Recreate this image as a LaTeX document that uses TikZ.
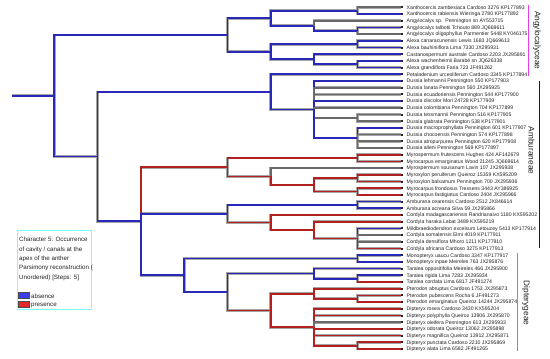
\documentclass[tikz,border=0pt]{standalone}
\usepackage{fontspec}
\setmainfont{Liberation Sans}
\definecolor{cb}{RGB}{40,40,185}
\definecolor{cr}{RGB}{178,32,32}
\definecolor{cg}{RGB}{105,105,105}
\definecolor{haloc}{RGB}{165,165,165}
\definecolor{txt}{RGB}{35,35,35}
\definecolor{legcyan}{RGB}{120,255,255}
\definecolor{swblue}{RGB}{60,60,235}
\definecolor{swred}{RGB}{230,40,40}
\definecolor{angc}{RGB}{235,60,235}
\definecolor{ambc}{RGB}{20,20,110}
\definecolor{dipc}{RGB}{255,105,55}
\begin{document}
\begin{tikzpicture}[x=1pt,y=-1pt,
  halo/.style={draw=haloc, line width=2.7pt},
  core/.style={line width=1.7pt},
  leaf/.style={anchor=west, inner sep=0pt, text height=3.7pt, text depth=0pt, font=\fontsize{5.15}{6}\selectfont, text=txt},
  legtext/.style={anchor=west, inner sep=0pt, text height=4pt, text depth=0pt, font=\fontsize{6.2}{7}\selectfont, text=txt},
  swatch/.style={draw=black!70, line width=0.5pt, minimum width=11pt, minimum height=6pt, inner sep=0pt},
  cladelab/.style={rotate=-90, inner sep=0pt, font=\fontsize{8.3}{9}\selectfont, text=txt},
  cladebar/.style={line width=1.3pt},
  tipmark/.style={fill=black!85}]
\useasboundingbox (0,0) rectangle (550,359);
\fill[white] (0,0) rectangle (550,359);

% leaf tips
\foreach \i in {1,...,52} {\coordinate (t\i) at (400.7,{7.3+6.7*(\i-1)});}

% internal nodes
\coordinate (R0) at (12,95.76);
\coordinate (A) at (54.3,95.76);
\coordinate (ANG) at (227.5,34.94);
\coordinate (XA) at (270.8,18.19);
\coordinate (Xa) at (357.4,10.65);
\coordinate (Ag) at (314.1,25.73);
\coordinate (AgI) at (357.4,30.75);
\coordinate (AL) at (270.8,51.69);
\coordinate (Al1) at (357.4,44.15);
\coordinate (CA) at (314.1,59.23);
\coordinate (Al2) at (357.4,64.25);
\coordinate (B) at (97.6,156.59);
\coordinate (C) at (270.8,91.89);
\coordinate (DU) at (314.1,109.48);
\coordinate (TG) at (357.4,117.85);
\coordinate (DM) at (357.4,137.95);
\coordinate (D) at (140.9,221.28);
\coordinate (E) at (227.5,167.26);
\coordinate (MF) at (357.4,158.05);
\coordinate (F) at (270.8,176.48);
\coordinate (G) at (314.1,184.85);
\coordinate (MX) at (357.4,178.15);
\coordinate (MC) at (357.4,191.55);
\coordinate (H) at (227.5,213.74);
\coordinate (AM) at (357.4,204.95);
\coordinate (I) at (270.8,222.54);
\coordinate (J) at (314.1,230.08);
\coordinate (K) at (357.4,238.45);
\coordinate (LN) at (184.2,275.3);
\coordinate (MO) at (357.4,258.55);
\coordinate (M) at (227.5,292.05);
\coordinate (N) at (314.1,273.63);
\coordinate (TR) at (357.4,278.65);
\coordinate (O) at (270.8,310.48);
\coordinate (P) at (314.1,293.73);
\coordinate (PP) at (357.4,298.75);
\coordinate (Q) at (314.1,327.23);
\coordinate (DA) at (357.4,345.65);

\def\brlist{R0/A/cb, A/ANG/cb, ANG/XA/cb, XA/Xa/cb, Xa/t1/cg, Xa/t2/cb,
 XA/Ag/cb, Ag/t3/cg, Ag/AgI/cb, AgI/t4/cb, AgI/t5/cg,
 ANG/AL/cb, AL/Al1/cb, Al1/t6/cb, Al1/t7/cb, AL/CA/cb, CA/t8/cb, CA/Al2/cb, Al2/t9/cb, Al2/t10/cb,
 A/B/cb, B/C/cb, C/t11/cb, C/DU/cb, DU/t12/cb, DU/t13/cg, DU/t14/cg, DU/t15/cb, DU/t16/cg,
 DU/TG/cg, TG/t17/cg, TG/t18/cg, DU/DM/cb, DM/t19/cb, DM/t20/cg, DM/t21/cg, DM/t22/cg,
 B/D/cb, D/E/cr, E/MF/cr, MF/t23/cr, MF/t24/cr, E/F/cr, F/t25/cg, F/G/cr, G/MX/cr, MX/t26/cr, MX/t27/cr,
 G/MC/cr, MC/t28/cr, MC/t29/cr,
 D/H/cb, H/AM/cb, AM/t30/cb, AM/t31/cb, H/I/cr, I/t32/cr, I/J/cr, J/t33/cr, J/K/cr,
 K/t34/cb, K/t35/cg, K/t36/cg, K/t37/cr,
 D/LN/cb, LN/MO/cb, MO/t38/cb, MO/t39/cb, LN/M/cb, M/N/cb, N/t40/cb, N/TR/cb, TR/t41/cb, TR/t42/cr,
 M/O/cr, O/P/cr, P/t43/cr, P/PP/cr, PP/t44/cr, PP/t45/cr,
 O/Q/cr, Q/t46/cr, Q/t47/cr, Q/t48/cg, Q/t49/cr, Q/t50/cr, Q/DA/cr, DA/t51/cr, DA/t52/cr}

\foreach \p/\c/\k in \brlist {\draw[halo] (\p) |- (\c);}
\foreach \p/\c/\k in \brlist {\draw[core, draw=\k] (\p) |- (\c);}

% tip marks
\foreach \i in {1,...,52} {\fill[tipmark] (t\i) ++(0.4,-1) rectangle ++(2,2);}

% leaf labels
\foreach \i/\s in {
1/{Xanthocercis zambesiaca Cardoso 3276 KP177893},
2/{Xanthocercis rabiensis Wieringa 2780 KP177892},
3/{Angylocalyx sp.\ \ Pennington sn AY553715},
4/{Angylocalyx talbotii Tchouto 889 JQ669611},
5/{Angylocalyx oligophyllus Parmentier 5448 KY046175},
6/{Alexa canaracunensis Lewis 1683 JQ669613},
7/{Alexa bauhiniiflora Lima 7330 JX295931},
8/{Castanospermum australe Cardoso 2203 JX295891},
9/{Alexa wachenheimii Barabé sn JQ626338},
10/{Alexa grandiflora Faria 723 JF491262},
11/{Petaladenium urceoliferum Cardoso 3345 KP177894},
12/{Dussia lehmannii Pennington 550 KP177903},
13/{Dussia lanata Pennington 560 JX295925},
14/{Dussia ecuadoriensis Pennington 544 KP177900},
15/{Dussia discolor Mori 24728 KP177909},
16/{Dussia colombiana Pennington 704 KP177899},
17/{Dussia tessmannii Pennington 516 KP177905},
18/{Dussia glabrata Pennington 538 KP177901},
19/{Dussia macroprophyllata Pennington 601 KP177907},
20/{Dussia chocoensis Pennington 574 KP177898},
21/{Dussia atropurpurea Pennington 620 KP177908},
22/{Dussia alleni Pennington 569 KP177897},
23/{Myrospermum frutescens Hughes 424 AF142679},
24/{Myrocarpus emarginatus Wood 21245 JQ669614},
25/{Myrospermum sousanum Lavin 107 JX295938},
26/{Myroxylon peruiferum Queiroz 15359 KX595209},
27/{Myroxylon balsamum Pennington 700 JX295936},
28/{Myrocarpus frondosus Tressens 3443 AY386925},
29/{Myrocarpus fastigiatus Cardoso 2404 JX295966},
30/{Amburana cearensis Cardoso 2512 JX846614},
31/{Amburana acreana Silva 59 JX295866},
32/{Cordyla madagascariensis Randrianaivo 1180 KX595202},
33/{Cordyla haraka Labat 3489 KX595219},
34/{Mildbraediodendron excelsum Letouzey 5413 KP177914},
35/{Cordyla somalensis Elmi 4019 KP177911},
36/{Cordyla densiflora Mhoro 1211 KP177910},
37/{Cordyla africana Cardoso 3275 KP177913},
38/{Monopteryx uaucu Cardoso 3347 KP177917},
39/{Monopteryx inpae Meireles 763 JX295876},
40/{Taralea oppositifolia Meireles 466 JX295900},
41/{Taralea rigida Lima 7283 JX295934},
42/{Taralea cordata Lima 6817 JF491274},
43/{Pterodon abruptus Cardoso 1753 JX295873},
44/{Pterodon pubescens Rocha 6 JF491273},
45/{Pterodon emarginatus Queiroz 14244 JX295874},
46/{Dipteryx rosea Cardoso 3430 KX595204},
47/{Dipteryx polyphylla Queiroz 13906 JX295870},
48/{Dipteryx oleifera Pennington 613 JX295933},
49/{Dipteryx odorata Queiroz 13062 JX295898},
50/{Dipteryx magnifica Queiroz 13912 JX295871},
51/{Dipteryx punctata Cardoso 2210 JX295869},
52/{Dipteryx alata Lima 6582 JF491265}} {
  \path (t\i) ++(5.8,0) node[leaf] (l\i) {\s};
}

% clade bars and labels
\coordinate (angT) at (528.5,5);
\coordinate (angB) at (528.5,75.7);
\draw[cladebar, draw=angc] (angT) -- (angB);
\node[cladelab] (angL) at (537,40.3) {Angylocalyceae};

\coordinate (ambT) at (539.3,81);
\coordinate (ambB) at (539.3,248.3);
\draw[cladebar, draw=ambc] (ambT) -- (ambB);
\node[cladelab] (ambL) at (531.5,150.5) {Amburaneae};

\coordinate (dipT) at (517.7,253.3);
\coordinate (dipB) at (517.7,351);
\draw[cladebar, draw=dipc] (dipT) -- (dipB);
\node[cladelab] (dipL) at (526,303) {Dipterygeae};

% legend
\node[draw=legcyan, line width=0.9pt, minimum width=74.3pt, minimum height=79pt, inner sep=0pt, anchor=north west] (legend) at (16.7,230.3) {};
\node[legtext] (lg1) at (19,239.7) {Character 5: Occurrence};
\node[legtext] (lg2) at (19,249.1) {of cavity / canals at the};
\node[legtext] (lg3) at (19,258.4) {apex of the anther};
\node[legtext] (lg4) at (19,267.7) {Parsimony reconstruction (};
\node[legtext] (lg5) at (19,277) {Unordered) [Steps: 5]};
\node[swatch, fill=swblue] (sw1) at (23.8,295.7) {};
\node[swatch, fill=swred] (sw2) at (23.8,304) {};
\node[legtext] (lab1) at (31,296) {absence};
\node[legtext] (lab2) at (31,304.5) {presence};
\end{tikzpicture}
\end{document}
